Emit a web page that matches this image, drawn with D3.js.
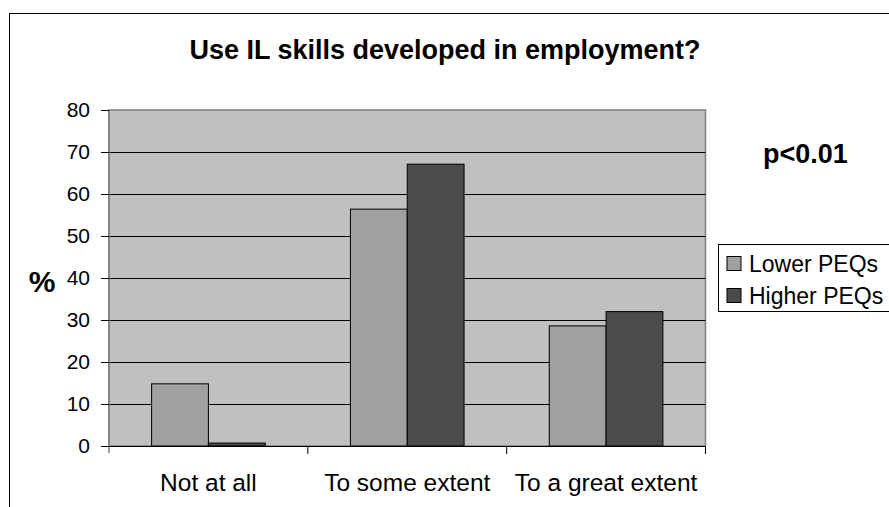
<!DOCTYPE html>
<html><head><meta charset="utf-8">
<script src="https://cdn.jsdelivr.net/npm/d3@7/dist/d3.min.js"></script>
<style>html,body{margin:0;padding:0;background:#fff;overflow:hidden}</style>
</head><body>
<script>
const categories = ["Not at all", "To some extent", "To a great extent"];
const seriesNames = ["Lower PEQs", "Higher PEQs"];
const lowerPEQs = [14.8, 56.4, 28.6];
const higherPEQs = [0.7, 67.1, 32.0];
const yTicks = [0, 10, 20, 30, 40, 50, 60, 70, 80];
const titleText = "Use IL skills developed in employment?";
const annotation = "p<0.01";
const yAxisLabel = "%";
const colors = ["#a0a0a0", "#4b4b4b"];

const W = 889, H = 507;
const font = "'Liberation Sans', Arial, sans-serif";
const svg = d3.select("body").append("svg").attr("width", W).attr("height", H);

// outer chart border
svg.append("rect").attr("x", 9.5).attr("y", 13.5).attr("width", 900).attr("height", 520)
  .attr("fill", "#fff").attr("stroke", "#000").attr("stroke-width", 1);

const plot = {left: 109, right: 705.5, top: 110, bottom: 446};
const x = d3.scaleBand().domain(categories).range([plot.left, plot.right]).paddingInner(0).paddingOuter(0);
const y = d3.scaleLinear().domain([0, 80]).range([plot.bottom, plot.top]);
const barW = x.bandwidth() / 3.5;
const xs = d3.scaleBand().domain(seriesNames).range([0, barW * 2]);

svg.append("rect").attr("x", plot.left).attr("y", plot.top)
  .attr("width", plot.right - plot.left).attr("height", plot.bottom - plot.top)
  .attr("fill", "#c0c0c0").attr("stroke", "#808080").attr("stroke-width", 1.5);

// gridlines
svg.append("g").selectAll("line").data(yTicks.filter(t => t > 0 && t < 80)).join("line")
  .attr("x1", plot.left).attr("x2", plot.right)
  .attr("y1", d => Math.round(y(d)) + 0.5).attr("y2", d => Math.round(y(d)) + 0.5)
  .attr("stroke", "#000").attr("stroke-width", 1);

// bars
const data = categories.map((c, i) => ({c, vals: [lowerPEQs[i], higherPEQs[i]]}));
const groups = svg.append("g").selectAll("g").data(data).join("g")
  .attr("transform", d => `translate(${x(d.c) + x.bandwidth() / 2 - barW},0)`);
groups.selectAll("rect").data(d => d.vals.map((v, j) => ({v, s: seriesNames[j], j}))).join("rect")
  .attr("x", d => xs(d.s)).attr("width", barW)
  .attr("y", d => y(d.v)).attr("height", d => y(0) - y(d.v))
  .attr("fill", d => colors[d.j]).attr("stroke", "#000").attr("stroke-width", 1);

// y axis
const yAxis = d3.axisLeft(y).tickValues(yTicks).tickSize(8).tickPadding(11);
const gy = svg.append("g").attr("transform", `translate(${plot.left},0)`).call(yAxis);
gy.select(".domain").attr("stroke", "#808080").attr("stroke-width", 1.5).attr("d", `M0,${plot.top}V${plot.bottom + 7}`);
gy.selectAll(".tick line").attr("stroke", "#000");
gy.selectAll("text").attr("font-family", font).attr("font-size", 21).attr("fill", "#000");

// x axis
const xAxis = d3.axisBottom(x).tickSize(0).tickPadding(28);
const gx = svg.append("g").attr("transform", `translate(0,${plot.bottom})`).call(xAxis);
gx.select(".domain").attr("stroke", "#000").attr("d", `M${plot.left - 8},0.5H${plot.right}`);
gx.selectAll("text").attr("font-family", font).attr("font-size", 24.5).attr("fill", "#000");
// category boundary ticks
svg.append("g").selectAll("line").data(categories.slice(1).concat(["__end"])).join("line")
  .attr("x1", d => d === "__end" ? plot.right : x(d))
  .attr("x2", d => d === "__end" ? plot.right : x(d))
  .attr("y1", plot.bottom).attr("y2", plot.bottom + 8).attr("stroke", "#000");

// title
svg.append("text").attr("x", 445).attr("y", 59).attr("text-anchor", "middle")
  .attr("font-family", font).attr("font-weight", "bold").attr("font-size", 27).text(titleText);

// y label
svg.append("text").attr("x", 42).attr("y", 292).attr("text-anchor", "middle")
  .attr("font-family", font).attr("font-weight", "bold").attr("font-size", 30).text(yAxisLabel);

// annotation
svg.append("text").attr("x", 763).attr("y", 163)
  .attr("font-family", font).attr("font-weight", "bold").attr("font-size", 27).text(annotation);

// legend
const lg = svg.append("g");
lg.append("rect").attr("x", 718.5).attr("y", 244.5).attr("width", 200).attr("height", 67)
  .attr("fill", "#fff").attr("stroke", "#000").attr("stroke-width", 1);
seriesNames.forEach((s, i) => {
  const yy = 256.5 + i * 32;
  lg.append("rect").attr("x", 727).attr("y", yy).attr("width", 14).attr("height", 14)
    .attr("fill", colors[i]).attr("stroke", "#000");
  lg.append("text").attr("x", 749).attr("y", yy + 15.5)
    .attr("font-family", font).attr("font-size", 23).text(s);
});
</script>
</body></html>
